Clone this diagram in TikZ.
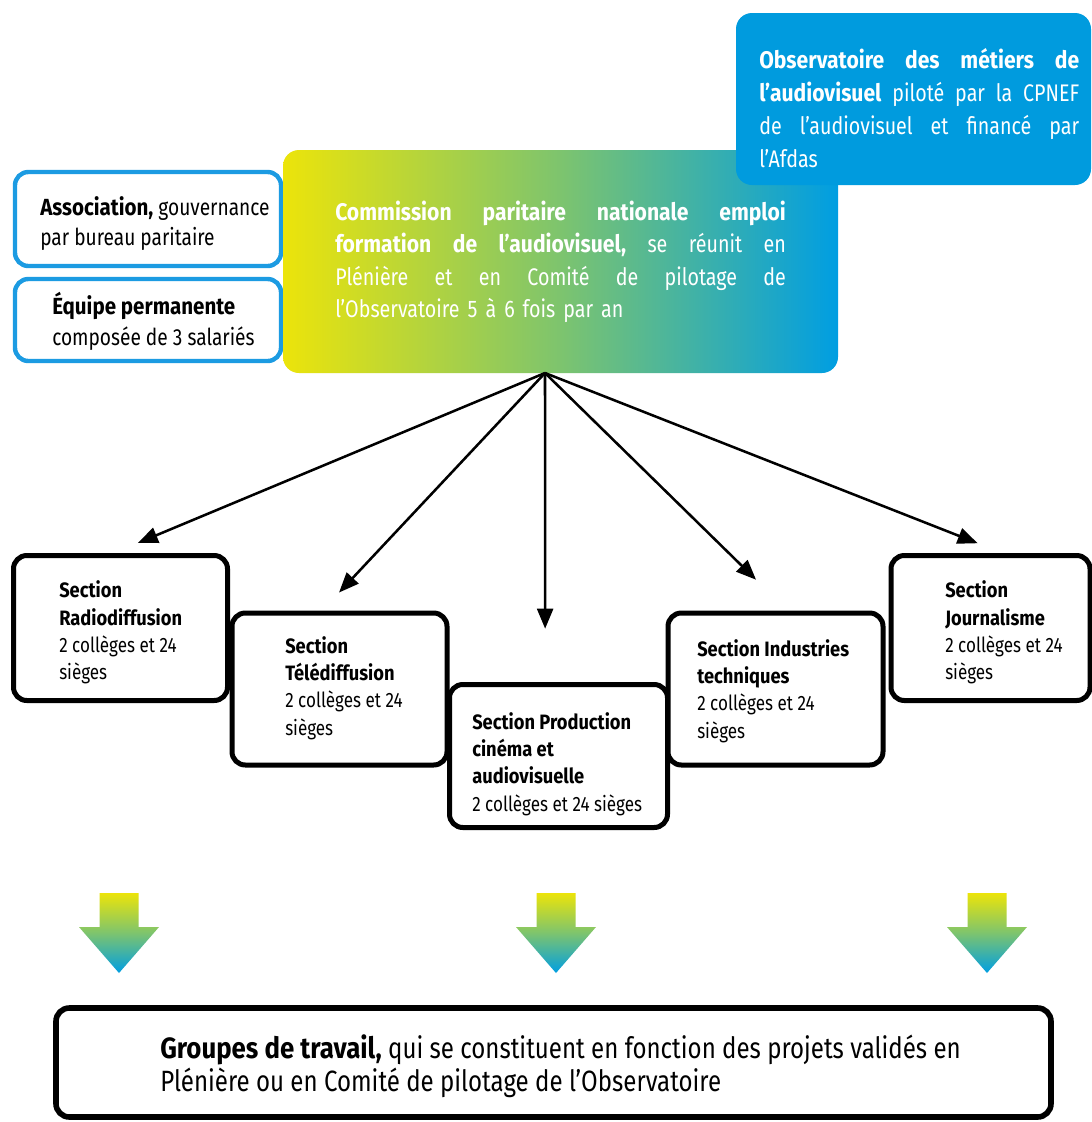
\documentclass[tikz,border=0pt]{standalone}
\usepackage{fontspec}
\setmainfont{Fira Sans}[UprightFeatures={FakeStretch=0.82}, BoldFeatures={FakeStretch=0.88}]
\usetikzlibrary{arrows.meta,calc}
\definecolor{ylw}{RGB}{236,228,10}
\definecolor{grn}{RGB}{125,196,110}
\definecolor{blu}{RGB}{0,158,226}
\definecolor{obsblue}{RGB}{0,155,222}
\definecolor{brdblue}{RGB}{28,155,226}
\newcommand{\jline}[2]{\leavevmode\hbox to #1{#2}}
\begin{document}
\begin{tikzpicture}[x=0.75pt,y=-0.75pt,
 secbox/.style={draw=black, line width=3.75pt, rounded corners=10pt, fill=white, inner sep=0pt},
 sidebox/.style={draw=brdblue, line width=3.3pt, rounded corners=10pt, fill=white, inner sep=0pt},
 lbl/.style={anchor=west, inner sep=0pt, align=left, font=\fontsize{15.6pt}{20.5pt}\selectfont},
 arr/.style={line width=1.9pt, -{Triangle[length=15pt,width=12pt]}},
 garrow/.style={top color=ylw, bottom color=blu, middle color=grn}
]
\useasboundingbox[fill=white] (0,0) rectangle (1092,1122);

% left side boxes
\node[sidebox, minimum width=199.5pt, minimum height=70.5pt] (assoc) at (148,219) {};
\node[sidebox, minimum width=199.5pt, minimum height=61.5pt] (equipe) at (148,320) {};
\node[lbl, font=\fontsize{17.5pt}{22.5pt}\selectfont] (assoc-t) at (40,223.5)
  {\textbf{Association,} gouvernance\\par bureau paritaire};
\node[lbl, font=\fontsize{17.5pt}{23.25pt}\selectfont] (equipe-t) at (52,321.5)
  {\textbf{Équipe permanente}\\composée de 3 salariés};

% commission
\node[left color=ylw, right color=blu, middle color=grn, rounded corners=12pt,
  minimum width=416.25pt, minimum height=167.25pt, inner sep=0pt] (cpnef) at (560.5,261.5) {};
\node[lbl, text width=338pt, text=white, font=\fontsize{18pt}{24.4pt}\selectfont] (cpnef-t) at (335,262)
  {\jline{338pt}{\textbf{Commission}\hfill\textbf{paritaire}\hfill\textbf{nationale}\hfill\textbf{emploi}}\\
   \jline{338pt}{\textbf{formation}\hfill\textbf{de}\hfill\textbf{l’audiovisuel,}\hfill se\hfill réunit\hfill en}\\
   \jline{338pt}{Plénière\hfill et\hfill en\hfill Comité\hfill de\hfill pilotage\hfill de}\\
   l’Observatoire 5 à 6 fois par an};

% observatoire
\node[fill=obsblue, rounded corners=12pt, minimum width=266.25pt, minimum height=129pt, inner sep=0pt] (obs) at (913.5,99) {};
\node[lbl, text width=240pt, text=white, font=\fontsize{18pt}{24.75pt}\selectfont] (obs-t) at (759,108.5)
  {\jline{240pt}{\textbf{Observatoire}\hfill\textbf{des}\hfill\textbf{métiers}\hfill\textbf{de}}\\
   \jline{240pt}{\textbf{l’audiovisuel}\hfill piloté\hfill par\hfill la\hfill CPNEF}\\
   \jline{240pt}{de\hfill l’audiovisuel\hfill et\hfill financé\hfill par}\\
   l’Afdas};

% sections
\node[secbox, minimum width=160.5pt, minimum height=108.75pt] (radio) at (120.5,628) {};
\node[secbox, minimum width=161.25pt, minimum height=114pt] (tele) at (339.5,689) {};
\node[secbox, minimum width=163.5pt, minimum height=107.25pt] (prod) at (558.5,756) {};
\node[secbox, minimum width=161.25pt, minimum height=114pt] (indus) at (775.5,689) {};
\node[secbox, minimum width=149.25pt, minimum height=108.75pt] (journ) at (990.5,628) {};

\node[lbl] (radio-t) at (59,632.5) {\textbf{Section}\\\textbf{Radiodiffusion}\\2 collèges et 24\\sièges};
\node[lbl] (tele-t) at (285,688) {\textbf{Section}\\\textbf{Télédiffusion}\\2 collèges et 24\\sièges};
\node[lbl] (prod-t) at (472,764) {\textbf{Section Production}\\\textbf{cinéma et}\\\textbf{audiovisuelle}\\2 collèges et 24 sièges};
\node[lbl] (indus-t) at (697,691) {\textbf{Section Industries}\\\textbf{techniques}\\2 collèges et 24\\sièges};
\node[lbl] (journ-t) at (945,632.5) {\textbf{Section}\\\textbf{Journalisme}\\2 collèges et 24\\sièges};

% connectors
\coordinate (src) at (545,373);
\draw[arr, shorten >=19.5pt] (src) -- ([xshift=-5pt]radio.north);
\draw[arr, shorten >=18.5pt] (src) -- ([xshift=-13pt]tele.north);
\draw[arr, shorten >=40pt] (src) -- ([xshift=-10pt]prod.north);
\draw[arr, shorten >=33pt] (src) -- ([xshift=9pt]indus.north);
\draw[arr, shorten >=20pt] (src) -- ([xshift=9pt]journ.north);

% gradient arrows
\foreach \cx in {119,556,987}{
  \shade[garrow] (\cx-19.5,893) -- (\cx+19.5,893) -- (\cx+19.5,927) -- (\cx+40,927)
    -- (\cx,973) -- (\cx-40,927) -- (\cx-19.5,927) -- cycle;
}

% bottom box
\node[secbox, line width=4.2pt, minimum width=746.25pt, minimum height=81.75pt] (groupes) at (553.5,1062.5) {};
\node[lbl, font=\fontsize{22pt}{24.75pt}\selectfont] (groupes-t) at (160,1066)
  {\textbf{Groupes de travail,} qui se constituent en fonction des projets validés en\\
   Plénière ou en Comité de pilotage de l’Observatoire};
\end{tikzpicture}
\end{document}
